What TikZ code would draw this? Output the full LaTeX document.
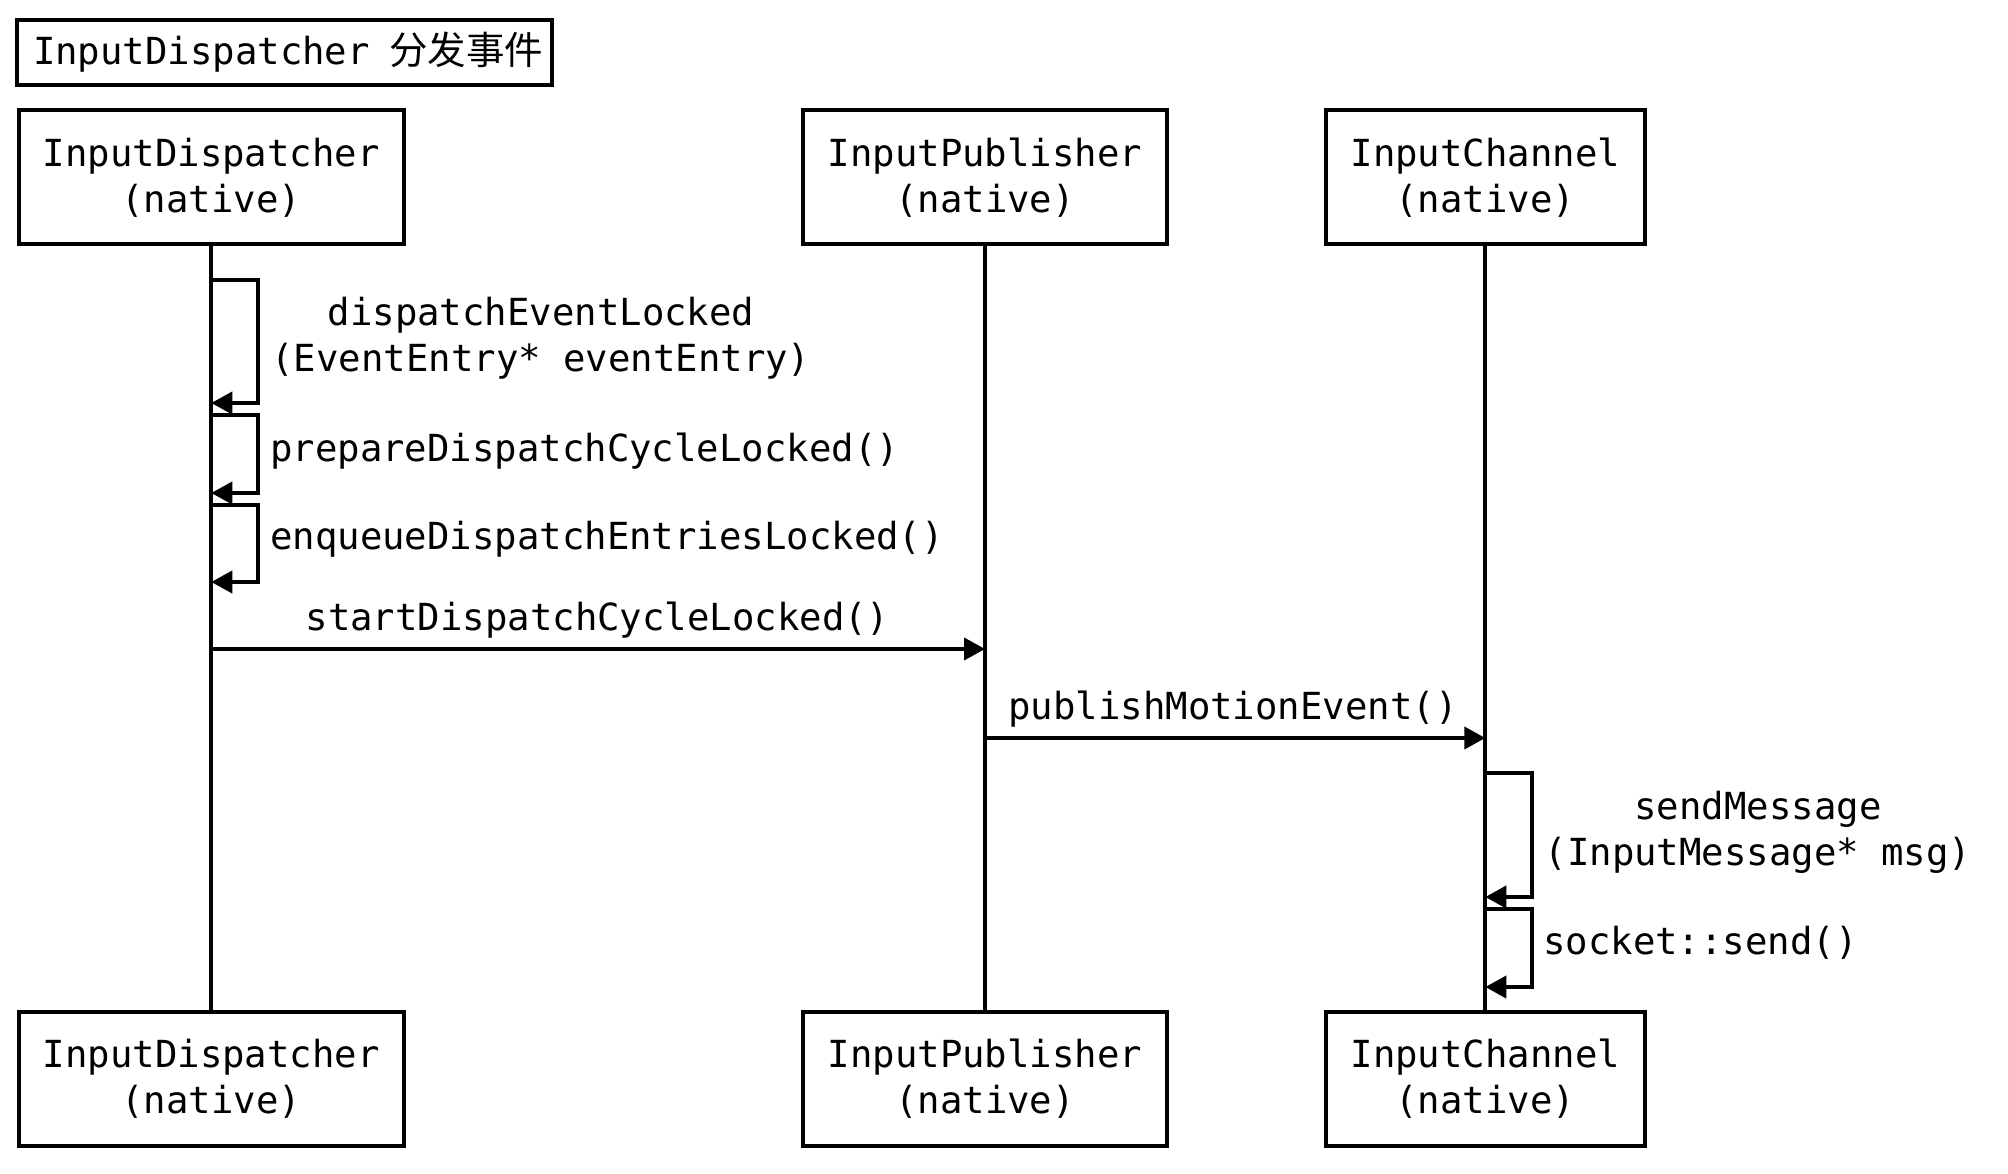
\documentclass[tikz,border=0pt]{standalone}
\usepackage{fontspec}
\setmonofont{DejaVu Sans Mono}
\newfontfamily\cjk{Noto Sans CJK SC}
\usetikzlibrary{arrows.meta}
\begin{document}
\begin{tikzpicture}[x=1pt,y=-1pt,
  every node/.style={font=\ttfamily\fontsize{37.3}{46}\selectfont, inner sep=0pt},
  actor/.style={draw, line width=4pt, fill=white, minimum width=#1, minimum height=134, align=center},
  life/.style={line width=4pt},
  msg/.style={line width=4pt, -{Triangle[length=21pt,width=22pt]}},
]
\useasboundingbox (0,0) rectangle (2008,1174);

% title
\node[draw, line width=4pt, outer sep=0pt, minimum width=535, minimum height=64.5,
      text width=503, inner xsep=16, text height=29, text depth=5, align=left]
      (title) at (284.5,52.75) {\mbox{InputDispatcher\kern19.5pt{\cjk\fontsize{38.5}{46}\selectfont 分发事件}}};

% participants
\node[actor=385] (dt) at (211.3,177.5) {InputDispatcher\\(native)};
\node[actor=364] (pt) at (985,177.5) {InputPublisher\\(native)};
\node[actor=319] (ct) at (1485.3,177.5) {InputChannel\\(native)};
\node[actor=385] (db) at (211.3,1078.5) {InputDispatcher\\(native)};
\node[actor=364] (pb) at (985,1078.5) {InputPublisher\\(native)};
\node[actor=319] (cb) at (1485.3,1078.5) {InputChannel\\(native)};

% lifelines
\draw[life] (dt.south) -- (db.north);
\draw[life] (pt.south) -- (pb.north);
\draw[life] (ct.south) -- (cb.north);

% coordinates on lifelines
\coordinate (d1) at (dt.center |- 0,280);
\coordinate (d2) at (dt.center |- 0,403);
\coordinate (d3) at (dt.center |- 0,415);
\coordinate (d4) at (dt.center |- 0,493);
\coordinate (d5) at (dt.center |- 0,505);
\coordinate (d6) at (dt.center |- 0,582);
\coordinate (d7) at (dt.center |- 0,649);
\coordinate (p7) at (pt.center |- 0,649);
\coordinate (p8) at (pt.center |- 0,738);
\coordinate (c8) at (ct.center |- 0,738);
\coordinate (c1) at (ct.center |- 0,773);
\coordinate (c2) at (ct.center |- 0,897);
\coordinate (c3) at (ct.center |- 0,909);
\coordinate (c4) at (ct.center |- 0,987);

% self messages on InputDispatcher
\draw[msg] (d1) -- ++(47,0) |- (d2);
\draw[msg] (d3) -- ++(47,0) |- (d4);
\draw[msg] (d5) -- ++(47,0) |- (d6);
\node[anchor=base] (l1) at (541,326)
  {\begin{tabular}[t]{@{}c@{}}dispatchEventLocked\\(EventEntry* eventEntry)\end{tabular}};
\node[anchor=base west] (l2) at (270,461) {prepareDispatchCycleLocked()};
\node[anchor=base west] (l3) at (270,549) {enqueueDispatchEntriesLocked()};

% messages
\draw[msg] (d7) -- (p7);
\node[anchor=base] (l4) at (597.5,630) {startDispatchCycleLocked()};
\draw[msg] (p8) -- (c8);
\node[anchor=base] (l5) at (1233,719) {publishMotionEvent()};

% self messages on InputChannel
\draw[msg] (c1) -- ++(47,0) |- (c2);
\draw[msg] (c3) -- ++(47,0) |- (c4);
\node[anchor=base] (l6) at (1758,819)
  {\begin{tabular}[t]{@{}c@{}}sendMessage\\(InputMessage* msg)\end{tabular}};
\node[anchor=base west] (l7) at (1543,954) {socket::send()};
\end{tikzpicture}
\end{document}
